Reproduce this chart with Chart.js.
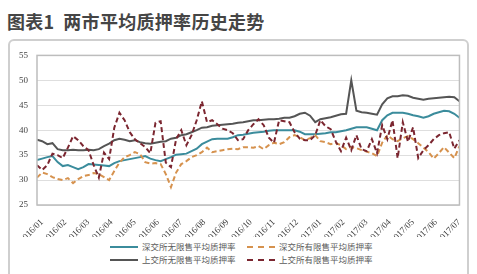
<!DOCTYPE html>
<html>
<head>
<meta charset="utf-8">
<script src="https://cdn.jsdelivr.net/npm/chart.js@4/dist/chart.umd.min.js"></script>
<style>
  html, body { margin: 0; padding: 0; background: #fff; }
  body { width: 477px; height: 274px; position: relative; overflow: hidden; font-family: "Noto Sans CJK SC", sans-serif; }
  #title { position: absolute; left: 7px; top: 8px; font-size: 18px; font-weight: bold; color: #454545; letter-spacing: 0.3px; white-space: nowrap; }
  #box { position: absolute; left: 8px; top: 39px; width: 457px; height: 250px; border: 2px solid #cfcfcf; border-radius: 6px; }
  #wrap { position: absolute; left: 9px; top: 41px; width: 457px; height: 196px; }
  .lg { position: absolute; height: 12px; font-size: 8.5px; color: #5a5a5a; white-space: nowrap; line-height: 12px; }
  .lg i { display: inline-block; width: 28px; height: 0; vertical-align: middle; margin-right: 4px; position: relative; top: -1px; }
</style>
</head>
<body>
<div id="title">图表1&nbsp;&nbsp;两市平均质押率历史走势</div>
<div id="box"></div>
<div id="wrap"><canvas id="chart"></canvas></div>
<div id="legend"></div>
<script>
// month labels on the date axis
const tickLabels = ["2016/01", "2016/02", "2016/03", "2016/04", "2016/05", "2016/06", "2016/07", "2016/08", "2016/09",
  "2016/10", "2016/11", "2016/12", "2017/01", "2017/02", "2017/03", "2017/04", "2017/05", "2017/06", "2017/07"];

// weekly observations, 2016/01 .. 2017/07
const szUnrestricted = [34, 34.3, 34.6, 34.8, 33.6, 32.8, 33, 32.6, 32.2, 32.6, 33.2, 33.1, 33, 32.9, 32.8, 33.4, 33.8, 34,
  34.2, 34.4, 34.6, 34.8, 34.3, 34, 33.8, 34.2, 34.6, 35.1, 35.2, 35.3, 35.8, 36.3, 37.2, 37.7, 38.2, 38.3, 38.3, 38.3,
  38.6, 39, 39.1, 39.3, 39.5, 39.6, 39.7, 39.9, 40, 40, 40, 40, 40, 39.7, 39.2, 39.2, 39.2, 39.3, 39.4, 39.6, 39.6, 39.8,
  40, 40.3, 40.6, 40.6, 40.6, 40.3, 40, 42, 43, 43.5, 43.5, 43.5, 43.3, 43, 42.8, 42.5, 42.8, 43.3, 43.6, 43.9, 43.8, 43.3, 42.5];

const szRestricted = [30.5, 31.5, 31.2, 30.6, 30.2, 30, 30.4, 29.4, 30.2, 30.8, 31, 31.4, 31.2, 30.6, 30, 31.8, 33.5, 34.6,
  35, 35.6, 35.2, 33.6, 33.3, 33.4, 33.2, 31.2, 28.6, 31.5, 33.2, 33.8, 34.6, 35, 35.6, 36.5, 35.6, 35.8, 36, 36.2, 36.3,
  36.2, 36.6, 36.6, 36.5, 36.8, 36.2, 37, 37.5, 37.2, 37.6, 38.6, 39, 38.6, 38, 38.4, 39, 37.8, 37.6, 37.2, 37.4, 37, 36.2,
  36.6, 36.4, 36, 35.7, 35.4, 34.8, 37.5, 39, 38.2, 37.8, 38.4, 38.8, 38.2, 37.4, 36.5, 35.6, 34.3, 35.4, 36.6, 35.5, 34.4, 36.8];

const shUnrestricted = [38.1, 37.8, 37.2, 37.4, 36.2, 36, 36, 36.1, 36, 36, 36.1, 36, 36.2, 36.8, 37.3, 38, 38.3, 38.1, 37.8,
  38, 37.6, 37.4, 37.3, 37.5, 37.7, 37.8, 38.3, 38.5, 39, 39.2, 39.6, 40, 40.5, 40.6, 40.9, 41, 41.1, 41.2, 41.3, 41.5, 41.6,
  41.8, 42, 42, 42.1, 42.2, 42.2, 42.3, 42.5, 42.5, 42.8, 43.3, 43.5, 42.9, 41.6, 42.2, 42.4, 42.6, 42.9, 43.2, 43.3, 50,
  43.9, 43.6, 43.5, 43.3, 43.1, 45.2, 46.4, 46.8, 46.8, 47, 46.9, 46.5, 46.3, 46.1, 46.3, 46.4, 46.5, 46.6, 46.7, 46.6, 45.8];

const shRestricted = [33, 32, 33, 35.3, 35, 34.4, 36.5, 38.8, 38, 36.8, 36, 33, 30.5, 35.5, 34.2, 40.5, 43.5, 42, 39.6, 38.2,
  37.4, 36.6, 35.4, 41.5, 41.8, 33.5, 32.6, 38.2, 40, 37, 39, 42, 45.8, 41.6, 42, 41.2, 40.3, 40, 39.4, 38, 38.2, 40, 41.2,
  42.2, 41, 38.5, 37.5, 42, 41.8, 41.6, 39.6, 38.3, 38, 38, 39, 42, 40.8, 40.2, 37.7, 35.8, 38.5, 36, 39, 36.2, 35.8, 38.2,
  35.4, 41, 38.2, 42, 34.4, 41.6, 37.7, 40.6, 34.4, 36, 37, 38.2, 39, 39.4, 39.6, 36.3, 38];

const seriesNames = ["深交所无限售平均质押率", "深交所有限售平均质押率", "上交所无限售平均质押率", "上交所有限售平均质押率"];

const COLORS = { szU: "#3b8c9c", szR: "#d6924e", shU: "#555555", shR: "#7b2630" };
const lastWeek = szUnrestricted.length - 1;
const labelSpan = 81; // weeks between first and last month label

function toPoints(arr) {
  return arr.map((v, i) => ({ x: i, y: v }));
}

const frame = {
  id: "frame",
  afterDatasetsDraw(chart) {
    const { ctx, chartArea: a } = chart;
    ctx.save();
    ctx.strokeStyle = "#bdbdbd";
    ctx.lineWidth = 1.5;
    ctx.strokeRect(a.left, a.top, a.right - a.left, a.bottom - a.top);
    ctx.restore();
  },
};

const serif = { family: "'Liberation Serif', 'DejaVu Serif', serif", size: 9 };

new Chart(document.getElementById("chart"), {
  type: "line",
  data: {
    datasets: [
      { label: seriesNames[0], data: toPoints(szUnrestricted), borderColor: COLORS.szU, borderWidth: 2, order: 4 },
      { label: seriesNames[1], data: toPoints(szRestricted), borderColor: COLORS.szR, borderWidth: 2, borderDash: [5, 3], order: 3 },
      { label: seriesNames[2], data: toPoints(shUnrestricted), borderColor: COLORS.shU, borderWidth: 2, order: 2 },
      { label: seriesNames[3], data: toPoints(shRestricted), borderColor: COLORS.shR, borderWidth: 2, borderDash: [5, 3], order: 1 },
    ],
  },
  options: {
    responsive: true,
    maintainAspectRatio: false,
    animation: false,
    elements: { point: { radius: 0 }, line: { tension: 0 } },
    layout: { padding: { top: 10, right: 4, left: 0, bottom: 0 } },
    plugins: { legend: { display: false }, tooltip: { enabled: false } },
    scales: {
      x: {
        type: "linear",
        min: 0,
        max: lastWeek,
        grid: { display: false },
        border: { display: false },
        afterBuildTicks(scale) {
          scale.ticks = tickLabels.map((_, i) => ({ value: (i * labelSpan) / (tickLabels.length - 1) }));
        },
        afterFit(scale) { scale.height = 32; },
        ticks: {
          autoSkip: false,
          minRotation: 45,
          maxRotation: 45,
          padding: 4,
          labelOffset: 5,
          color: "#3c3c3c",
          font: serif,
          callback: (v, i) => tickLabels[i],
        },
      },
      y: {
        min: 25,
        max: 55,
        grid: { color: "#dedede", lineWidth: 1, drawTicks: false },
        border: { display: false },
        afterFit(scale) { scale.width = 28; },
        ticks: { stepSize: 5, padding: 9, color: "#444", font: serif },
      },
    },
  },
  plugins: [frame],
});

// html legend, two items per row
const legendItems = [
  { name: seriesNames[0], color: COLORS.szU, dashed: false, left: 110, top: 240 },
  { name: seriesNames[1], color: COLORS.szR, dashed: true, left: 247, top: 240 },
  { name: seriesNames[2], color: COLORS.shU, dashed: false, left: 110, top: 253 },
  { name: seriesNames[3], color: COLORS.shR, dashed: true, left: 247, top: 253 },
];
const lg = document.getElementById("legend");
legendItems.forEach((it) => {
  const d = document.createElement("div");
  d.className = "lg";
  d.style.left = it.left + "px";
  d.style.top = it.top + "px";
  d.innerHTML = '<i style="border-top:2px ' + (it.dashed ? "dashed" : "solid") + " " + it.color + '"></i>' + it.name;
  lg.appendChild(d);
});
</script>
</body>
</html>
